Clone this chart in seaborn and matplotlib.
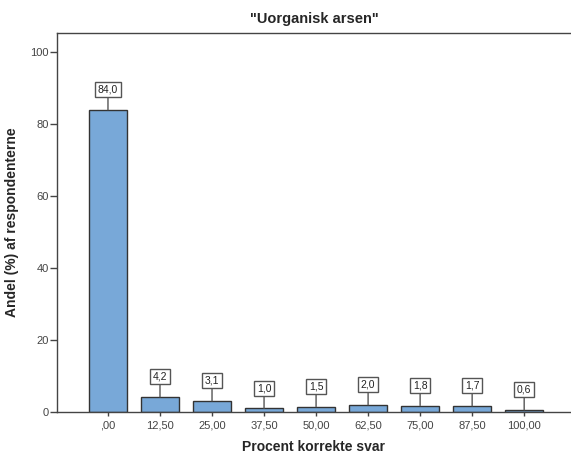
import pandas as pd
import matplotlib
matplotlib.use('Agg')
import matplotlib.pyplot as plt
import seaborn as sns

categories = [',00', '12,50', '25,00', '37,50', '50,00', '62,50', '75,00', '87,50', '100,00']
values = [84.0, 4.2, 3.1, 1.0, 1.5, 2.0, 1.8, 1.7, 0.6]
labels = ['84,0', '4,2', '3,1', '1,0', '1,5', '2,0', '1,8', '1,7', '0,6']

df = pd.DataFrame({'Procent': categories, 'Andel': values})

sns.set_style('white')
plt.rcParams['font.family'] = ['Arial', 'Liberation Sans', 'DejaVu Sans']

fig = plt.figure(figsize=(5.71, 4.54), dpi=100)
ax = fig.add_axes([0.0998, 0.0925, 0.9002, 0.8345])

sns.barplot(data=df, x='Procent', y='Andel', color='#78A8D8', saturation=1,
            edgecolor='#333333', linewidth=1, width=0.73, ax=ax)

for i, (v, lab) in enumerate(zip(values, labels)):
    ax.annotate(lab, xy=(i, v), xytext=(0, 11), textcoords='offset points',
                ha='center', va='bottom', fontsize=7.5, color='#222222',
                bbox=dict(boxstyle='square,pad=0.25', fc='white', ec='#555555', lw=1),
                arrowprops=dict(arrowstyle='-', color='#555555', lw=1,
                                shrinkA=0, shrinkB=0))

ax.set_xlim(-0.98, 8.9)
ax.set_ylim(0, 105.3)
ax.set_yticks([0, 20, 40, 60, 80, 100])

for side in ['left', 'top', 'bottom']:
    ax.spines[side].set_color('#444444')
    ax.spines[side].set_linewidth(1)
ax.spines['right'].set_visible(False)

ax.tick_params(axis='y', left=True, length=5, width=1, color='#444444',
               labelsize=8, labelcolor='#444444', pad=1)
ax.tick_params(axis='x', bottom=True, length=3, width=1, color='#444444',
               labelsize=8, labelcolor='#444444', pad=3)

ax.set_title('"Uorganisk arsen"', fontsize=10.5, fontweight='bold', pad=7)
ax.set_xlabel('Procent korrekte svar', fontsize=10, fontweight='bold', labelpad=7)
ax.set_ylabel('Andel (%) af respondenterne', fontsize=10, fontweight='bold', labelpad=8)

fig.savefig('out.png', dpi=100)
